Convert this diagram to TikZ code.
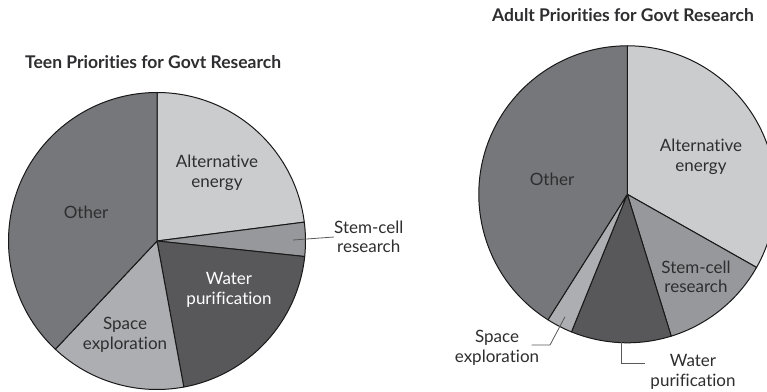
\documentclass[tikz,border=0pt]{standalone}
\usepackage{fontspec}
\setmainfont[Ligatures={NoCommon,NoRare}]{Lato}
\definecolor{altcol}{HTML}{CBCCCE}
\definecolor{stemcol}{HTML}{97989B}
\definecolor{watercol}{HTML}{58585A}
\definecolor{spacecol}{HTML}{ADAEB1}
\definecolor{othercol}{HTML}{76777A}
\definecolor{txtcol}{HTML}{2E2E30}
\tikzset{
  slice/.style={draw=black!90, line width=1pt, line join=round},
  lbl/.style={font=\fontsize{17}{19.5}\selectfont, align=center, text=txtcol, inner sep=0pt},
  ttl/.style={font=\bfseries\fontsize{17.5}{20}\selectfont, text=txtcol, inner sep=0pt},
  leader/.style={draw=black!65, line width=0.8pt}
}
\begin{document}
\begin{tikzpicture}[x=1pt,y=1pt]
        \clip (0,0) rectangle (767,391);
        \fill[white] (0,0) rectangle (767,391);
        
        % teen pie
        \coordinate (T) at (157,150);
        \filldraw[slice, fill=altcol]   (T) -- ++(90:148.5) arc (90:7.3:148.5) -- cycle;
        \filldraw[slice, fill=stemcol]  (T) -- ++(7.3:148.5) arc (7.3:-6:148.5) -- cycle;
        \filldraw[slice, fill=watercol] (T) -- ++(-6:148.5) arc (-6:-79.6:148.5) -- cycle;
        \filldraw[slice, fill=spacecol] (T) -- ++(-79.6:148.5) arc (-79.6:-133.2:148.5) -- cycle;
        \filldraw[slice, fill=othercol] (T) -- ++(-133.2:148.5) arc (-133.2:-270:148.5) -- cycle;
        
        \node[ttl, anchor=west] (tteen) at (25,329) {Teen Priorities for Govt Research};
        \node[lbl] (tother) at (86,179) {Other};
        \node[lbl] (talt) at (217,218) {Alternative\\energy};
        \node[lbl] (twater) at (229,101) [text=white] {Water\\purification};
        \node[lbl] (tspace) at (125,56) {Space\\exploration};
        \node[lbl, anchor=west] (tstem) at (334,154) {Stem-cell\\research};
        \coordinate (tstemtip) at (293,151);
        \draw[leader] (tstemtip) -- (tstem.west);
        
        % adult pie
        \coordinate (A) at (627.3,196.7);
        \filldraw[slice, fill=altcol]   (A) -- ++(90:148.5) arc (90:-29.5:148.5) -- cycle;
        \filldraw[slice, fill=stemcol]  (A) -- ++(-29.5:148.5) arc (-29.5:-72.8:148.5) -- cycle;
        \filldraw[slice, fill=watercol] (A) -- ++(-72.8:148.5) arc (-72.8:-112.1:148.5) -- cycle;
        \filldraw[slice, fill=spacecol] (A) -- ++(-112.1:148.5) arc (-112.1:-122.3:148.5) -- cycle;
        \filldraw[slice, fill=othercol] (A) -- ++(-122.3:148.5) arc (-122.3:-270:148.5) -- cycle;
        
        \node[ttl] (aadult) at (623,376) {Adult Priorities for Govt Research};
        \node[lbl] (aother) at (552,212) {Other};
        \node[lbl] (aalt) at (701,234) {Alternative\\energy};
        \node[lbl] (astem) at (696,114) {Stem-cell\\research};
        \node[lbl] (aspace) at (497,43) {Space\\exploration};
        \node[lbl] (awater) at (693,19) {Water\\purification};
        
        \coordinate (aspacetip) at (565,74.3);
        \coordinate (aspacekink) at (550,46);
        \coordinate (aspaceend) at (531.7,46);
        \draw[leader] (aspacetip) -- (aspacekink) -- (aspaceend);
        
        \coordinate (awatertip) at (621.7,65);
        \coordinate (awaterkink) at (621.7,27.7);
        \coordinate (awaterend) at (645,27.7);
        \draw[leader] (awatertip) -- (awaterkink) -- (awaterend);
    \end{tikzpicture}
\end{document}
